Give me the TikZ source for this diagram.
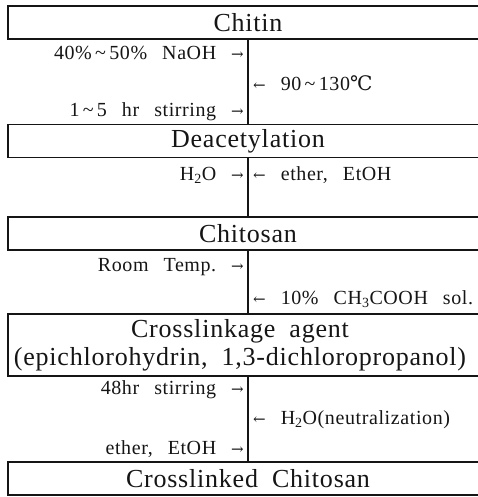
\documentclass[tikz,border=0pt]{standalone}
\usepackage{fontspec}
\setmainfont{Liberation Serif}
\newfontfamily\stagefont[LetterSpace=3]{Liberation Serif}
\newfontfamily\notefont[LetterSpace=3]{Liberation Serif}
\newfontfamily\symfont{DejaVu Serif}
\usetikzlibrary{positioning}
\definecolor{csInk}{HTML}{151515}
\newcommand{\ra}{{\symfont\fontsize{15}{17}\selectfont →}}
\newcommand{\la}{{\symfont\fontsize{15}{17}\selectfont ←}}
\newcommand{\wv}{\,\textasciitilde\,}
\newcommand{\lgap}{\hspace{15pt}}
\newcommand{\tgap}{\hspace{14pt}}
\tikzset{
 chart/.style={x=1pt,y=-1pt,text=csInk,line cap=butt},
 stage/.style={rectangle,draw=csInk,line width=1.3pt,minimum width=480pt,
   minimum height=33pt,inner sep=0pt,font=\stagefont\fontsize{26}{28}\selectfont},
 stagetext/.style={inner sep=0pt,align=center,font=\stagefont\fontsize{26}{28}\selectfont},
 spine/.style={draw=csInk,line width=1.1pt},
 addL/.style={anchor=east,inner sep=0pt,font=\notefont\fontsize{20}{22}\selectfont},
 addR/.style={anchor=west,inner sep=0pt,font=\notefont\fontsize{20}{22}\selectfont}
}

\begin{document}
\begin{tikzpicture}[chart]
 \useasboundingbox (0,0) rectangle (478,497);
 \clip (0,0) rectangle (478,497);
 % stages
 \node[stage] (chitin) at (248,22.5) {Chitin};
 \node[stage] (deacet) at (248,141) {Deacetylation};
 \node[stage] (chitosan) at (248,233.5) {Chitosan};
 \node[stage,minimum height=62pt] (agent) at (248,345) {};
 \node[stagetext] (agenttext) at (240,345)
   {Crosslinkage\tgap agent\\(epichlorohydrin,\tgap 1,3-dichloropropanol)};
 \node[stage] (product) at (248,478.5) {Crosslinked\tgap Chitosan};
 % spine between stages
 \draw[spine] (chitin) -- (deacet);
 \draw[spine] (deacet) -- (chitosan);
 \draw[spine] (chitosan) -- (agent);
 \draw[spine] (agent) -- (product);
 % conditions
 \node[addL] (naoh) at (244,53) {40\%\wv50\%\lgap NaOH\lgap\ra};
 \node[addR] (heat) at (253,83) {\la\lgap 90\wv130{\symfont ℃}};
 \node[addL] (stir) at (244,112) {1\wv5\lgap hr\lgap stirring\lgap\ra};
 \node[addL] (water) at (244,175) {H\textsubscript{2}O\lgap\ra};
 \node[addR] (wash) at (253,175) {\la\lgap ether,\lgap EtOH};
 \node[addL] (room) at (244,267) {Room\lgap Temp.\lgap\ra};
 \node[addR] (acid) at (253,299) {\la\lgap 10\%\lgap CH\textsubscript{3}COOH\lgap sol.};
 \node[addL] (hold) at (244,390) {48hr\lgap stirring\lgap\ra};
 \node[addR] (neut) at (253,420) {\la\lgap H\textsubscript{2}O(neutralization)};
 \node[addL] (rinse) at (244,449) {ether,\lgap EtOH\lgap\ra};
\end{tikzpicture}
\end{document}
